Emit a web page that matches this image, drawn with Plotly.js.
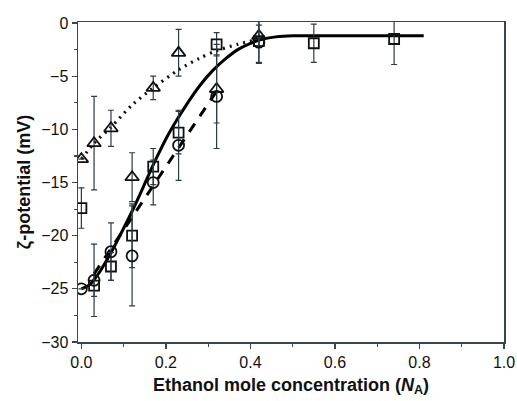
<!DOCTYPE html>
<html>
<head>
<meta charset="utf-8">
<script src="https://cdn.plot.ly/plotly-3.0.1.min.js"></script>
<style>html,body{margin:0;padding:0;background:#fff;}#chart{width:517px;height:401px;}</style>
</head>
<body>
<div id="chart"></div>
<script>
// Triangles (dotted fit)
const triX = [0.0, 0.03, 0.07, 0.12, 0.17, 0.23, 0.32, 0.42];
const triY = [-12.8, -11.3, -9.9, -14.5, -6.1, -2.8, -6.2, -1.2];
const triErr = [0, 4.4, 1.7, 2.3, 1.1, 2.2, 3.2, 1.0];

// Squares (solid fit)
const sqX = [0.0, 0.03, 0.07, 0.12, 0.17, 0.23, 0.32, 0.42, 0.55, 0.74];
const sqY = [-17.4, -24.7, -22.9, -20.0, -13.5, -10.3, -2.0, -1.7, -1.9, -1.5];
const sqErr = [1.9, 1.0, 1.3, 3.0, 1.7, 2.0, 1.1, 2.0, 1.8, 2.4];

// Circles (dashed fit)
const ciX = [0.0, 0.03, 0.07, 0.12, 0.17, 0.23, 0.32, 0.42];
const ciY = [-25.0, -24.2, -21.5, -21.9, -15.0, -11.5, -6.9, -1.8];
const ciErr = [0, 3.4, 2.7, 4.7, 2.1, 3.3, 4.9, 2.0];

// Fitted curves
const solidX = [0.0, 0.02, 0.04, 0.07, 0.1, 0.12, 0.14, 0.16, 0.18, 0.2, 0.22, 0.25, 0.28, 0.31, 0.34, 0.37, 0.4, 0.43, 0.46, 0.5, 0.6, 0.7, 0.81];
const solidY = [-25.0, -24.6, -23.6, -21.6, -19.3, -17.7, -16.0, -14.2, -12.5, -10.9, -9.5, -7.6, -5.9, -4.5, -3.4, -2.5, -1.9, -1.5, -1.3, -1.2, -1.2, -1.2, -1.2];
const dashX = [0.03, 0.32];
const dashY = [-23.6, -6.4];
const dotX = [0.0, 0.03, 0.07, 0.12, 0.17, 0.23, 0.28, 0.32, 0.37, 0.42];
const dotY = [-12.8, -11.3, -9.8, -7.7, -6.1, -4.4, -3.3, -2.6, -2.0, -1.5];

const errColor = '#2d3c42';
function errObj(arr){
  return {type:'data', array:arr, visible:true, color:errColor, thickness:1.2, width:3};
}
const mk = (sym, s) => ({symbol:sym, size:s, color:'#111', line:{color:'#111', width:1.8}});

const traces = [
  {x:solidX, y:solidY, mode:'lines', line:{color:'#000', width:3, shape:'spline', smoothing:0.8}, hoverinfo:'skip'},
  {x:dashX, y:dashY, mode:'lines', line:{color:'#000', width:3, dash:'10px,9px'}, hoverinfo:'skip'},
  {x:dotX, y:dotY, mode:'lines', line:{color:'#111', width:3.2, dash:'2px,5px', shape:'spline', smoothing:0.8}, hoverinfo:'skip'},
  {x:triX, y:triY, mode:'markers', marker:mk('triangle-up-open', 12), error_y:errObj(triErr)},
  {x:sqX, y:sqY, mode:'markers', marker:mk('square-open', 10), error_y:errObj(sqErr)},
  {x:ciX, y:ciY, mode:'markers', marker:mk('circle-open', 11), error_y:errObj(ciErr)}
];

const axisCommon = {
  showline:true, mirror:true, linecolor:'#3a464c', linewidth:1.5,
  ticks:'outside', tickcolor:'#3a464c', tickwidth:1.2, ticklen:5,
  showgrid:false, zeroline:false,
  tickfont:{family:'Liberation Sans, Arial, sans-serif', size:16, color:'#111'}
};

const layout = {
  width:517, height:401,
  margin:{l:78, r:13, t:22, b:59},
  paper_bgcolor:'#fff', plot_bgcolor:'#fff',
  showlegend:false,
  xaxis:Object.assign({}, axisCommon, {
    range:[-0.008, 1.0], tickvals:[0,0.2,0.4,0.6,0.8,1.0], ticktext:['0.0','0.2','0.4','0.6','0.8','1.0'],
    minor:{tickvals:[0.1,0.3,0.5,0.7,0.9], ticks:'outside', ticklen:3, tickcolor:'#3a464c'},
    title:{text:'<b>Ethanol mole concentration (<i>N</i><sub>A</sub>)</b>', standoff:8,
      font:{family:'Liberation Sans, Arial, sans-serif', size:18, color:'#111'}}
  }),
  yaxis:Object.assign({}, axisCommon, {
    range:[-30, 0.1], tickvals:[0,-5,-10,-15,-20,-25,-30],
    minor:{tickvals:[-2.5,-7.5,-12.5,-17.5,-22.5,-27.5], ticks:'outside', ticklen:3, tickcolor:'#3a464c'},
    title:{text:'<b>ζ-potential (mV)</b>', standoff:6,
      font:{family:'Liberation Sans, Arial, sans-serif', size:18, color:'#111'}}
  })
};

Plotly.newPlot('chart', traces, layout, {displayModeBar:false, staticPlot:true});
</script>
</body>
</html>
